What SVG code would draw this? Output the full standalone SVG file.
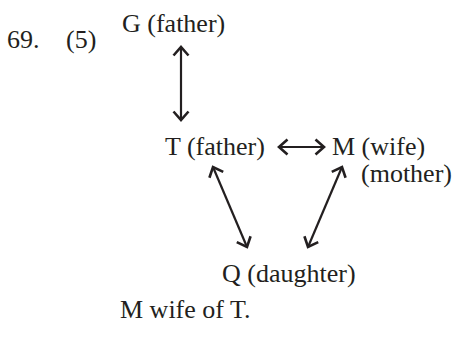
<svg xmlns="http://www.w3.org/2000/svg" width="453" height="343" viewBox="0 0 453 343">
<style>
text{font-family:"Liberation Serif","Times New Roman",serif;font-size:26px;fill:#231f20}
.c{stroke:#231f20;stroke-width:2.2;fill:none}
</style>
<defs>
<marker id="ah" markerUnits="userSpaceOnUse" markerWidth="20" markerHeight="20" viewBox="-10 -10 20 20" refX="0" refY="0" orient="auto-start-reverse">
<path d="M-8.5,-7.5 L0,0 L-8.5,7.5" fill="none" stroke="#231f20" stroke-width="2.6" stroke-linejoin="miter"/>
</marker>
</defs>
<rect width="453" height="343" fill="#fff"/>
<g id="label"><text x="7" y="48">69.</text><text x="66" y="48">(5)</text></g>
<g id="G"><text x="122" y="32">G (father)</text></g>
<g id="T"><text x="165" y="155">T (father)</text></g>
<g id="M"><text x="332" y="155">M (wife)</text><text x="361" y="182">(mother)</text></g>
<g id="Q"><text x="222" y="282">Q (daughter)</text></g>
<g id="note"><text x="120" y="318">M wife of T.</text></g>
<g id="connectors">
<line class="c" x1="181" y1="47" x2="181" y2="120" marker-start="url(#ah)" marker-end="url(#ah)"/>
<line class="c" x1="279" y1="147" x2="324" y2="147" marker-start="url(#ah)" marker-end="url(#ah)"/>
<line class="c" x1="213" y1="167" x2="247" y2="247" marker-start="url(#ah)" marker-end="url(#ah)"/>
<line class="c" x1="342" y1="167" x2="308" y2="247" marker-start="url(#ah)" marker-end="url(#ah)"/>
</g>
</svg>
